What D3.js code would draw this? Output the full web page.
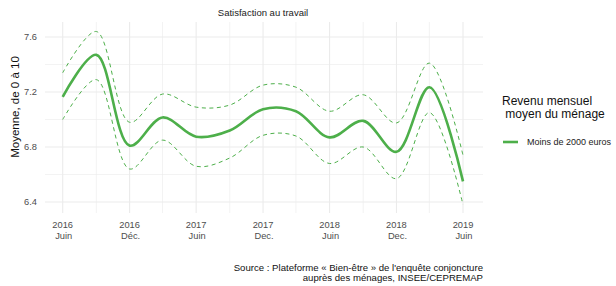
<!DOCTYPE html>
<html>
<head>
<meta charset="utf-8">
<script src="https://cdn.jsdelivr.net/npm/d3@7"></script>
<style>
  body { margin: 0; background: #fff; }
  svg { font-family: "Liberation Sans", Arial, sans-serif; }
</style>
</head>
<body>
<div id="chart"></div>
<script>
// quarterly survey points
const dates = ["2016-06-01", "2016-09-01", "2016-12-01", "2017-03-01", "2017-06-01", "2017-09-01",
               "2017-12-01", "2018-03-01", "2018-06-01", "2018-09-01", "2018-12-01", "2019-03-01", "2019-06-01"];
const meanVals  = [7.165, 7.47, 6.81, 7.015, 6.875, 6.92, 7.075, 7.06, 6.87, 6.99, 6.765, 7.235, 6.55];
const upperVals = [7.34, 7.64, 6.98, 7.185, 7.09, 7.105, 7.25, 7.235, 7.06, 7.18, 6.975, 7.41, 6.74];
const lowerVals = [7.00, 7.29, 6.64, 6.85, 6.66, 6.72, 6.885, 6.88, 6.68, 6.80, 6.57, 7.05, 6.38];

const xTicks = [
  { date: "2016-06-01", year: "2016", month: "Juin" },
  { date: "2016-12-01", year: "2016", month: "Déc." },
  { date: "2017-06-01", year: "2017", month: "Juin" },
  { date: "2017-12-01", year: "2017", month: "Dec." },
  { date: "2018-06-01", year: "2018", month: "Juin" },
  { date: "2018-12-01", year: "2018", month: "Dec." },
  { date: "2019-06-01", year: "2019", month: "Juin" }
];
const xMinor = ["2016-09-01", "2017-03-01", "2017-09-01", "2018-03-01", "2018-09-01", "2019-03-01"];
const yTicks = [6.4, 6.8, 7.2, 7.6];
const yMinor = [6.6, 7.0, 7.4];

const title = "Satisfaction au travail";
const yLabel = "Moyenne, de 0 à 10";
const legendTitle = ["Revenu mensuel", " moyen du ménage"];
const seriesName = "Moins de 2000 euros";
const caption = ["Source : Plateforme « Bien-être » de l'enquête conjoncture", "auprès des ménages, INSEE/CEPREMAP"];

const W = 616, H = 286;
const green = "#4daf4a";
const gridCol = "#ebebeb";
const parse = d3.timeParse("%Y-%m-%d");

const rows = dates.map((d, i) => ({
  date: parse(d), mean: meanVals[i], upper: upperVals[i], lower: lowerVals[i]
}));

const panel = { left: 45, right: 483, top: 22, bottom: 213 };

const x = d3.scaleTime()
  .domain([parse("2016-06-01"), parse("2019-06-01")])
  .range([62.7, 463]);
const y = d3.scaleLinear()
  .domain([6.4, 7.6])
  .range([202, 37]);

const svg = d3.select("#chart").append("svg")
  .attr("width", W).attr("height", H);

// grid
const grid = svg.append("g");
grid.selectAll(".ymin").data(yMinor).enter().append("line")
  .attr("x1", panel.left).attr("x2", panel.right)
  .attr("y1", d => y(d)).attr("y2", d => y(d))
  .attr("stroke", gridCol).attr("stroke-width", 0.6);
grid.selectAll(".xmin").data(xMinor).enter().append("line")
  .attr("x1", d => x(parse(d))).attr("x2", d => x(parse(d)))
  .attr("y1", panel.top).attr("y2", panel.bottom)
  .attr("stroke", gridCol).attr("stroke-width", 0.6);
grid.selectAll(".ymaj").data(yTicks).enter().append("line")
  .attr("x1", panel.left).attr("x2", panel.right)
  .attr("y1", d => y(d)).attr("y2", d => y(d))
  .attr("stroke", gridCol).attr("stroke-width", 1.1);
grid.selectAll(".xmaj").data(xTicks).enter().append("line")
  .attr("x1", d => x(parse(d.date))).attr("x2", d => x(parse(d.date)))
  .attr("y1", panel.top).attr("y2", panel.bottom)
  .attr("stroke", gridCol).attr("stroke-width", 1.1);

// y tick labels
svg.selectAll(".ytl").data(yTicks).enter().append("text")
  .attr("x", 37).attr("y", d => y(d) + 3.3)
  .attr("text-anchor", "end")
  .attr("fill", "#4d4d4d").style("font-size", "9.3px")
  .text(d => d3.format(".1f")(d));

// x tick labels
const xt = svg.selectAll(".xtl").data(xTicks).enter().append("text")
  .attr("text-anchor", "middle")
  .attr("fill", "#4d4d4d").style("font-size", "9.3px");
xt.append("tspan").attr("x", d => x(parse(d.date))).attr("y", 227.5).text(d => d.year);
xt.append("tspan").attr("x", d => x(parse(d.date)) + 1).attr("y", 238.5).text(d => d.month);

// lines
const curve = d3.curveCatmullRom.alpha(0.5);
const lineOf = key => d3.line().curve(curve).x(d => x(d.date)).y(d => y(d[key]));

["upper", "lower"].forEach(k => {
  svg.append("path").datum(rows)
    .attr("fill", "none").attr("stroke", green)
    .attr("stroke-width", 1).attr("stroke-dasharray", "4,3.5")
    .attr("d", lineOf(k));
});
svg.append("path").datum(rows)
  .attr("fill", "none").attr("stroke", green)
  .attr("stroke-width", 2.6).attr("stroke-linejoin", "round")
  .attr("d", lineOf("mean"));

// title
svg.append("text")
  .attr("x", 263).attr("y", 16)
  .attr("text-anchor", "middle")
  .attr("fill", "#222").style("font-size", "9.5px")
  .text(title);

// y axis title
svg.append("text")
  .attr("transform", "translate(19,107) rotate(-90)")
  .attr("text-anchor", "middle")
  .attr("fill", "#111").style("font-size", "11.5px")
  .text(yLabel);

// legend
svg.selectAll(".lt").data(legendTitle).enter().append("text")
  .attr("x", 502).attr("y", (d, i) => 104.5 + i * 13)
  .attr("fill", "#111").style("font-size", "12px")
  .style("white-space", "pre").attr("xml:space", "preserve")
  .text(d => d);
svg.append("line")
  .attr("x1", 503).attr("x2", 518).attr("y1", 142).attr("y2", 142)
  .attr("stroke", green).attr("stroke-width", 2.6);
svg.append("text")
  .attr("x", 527).attr("y", 145.3)
  .attr("fill", "#222").style("font-size", "9px")
  .text(seriesName);

// caption
svg.selectAll(".cap").data(caption).enter().append("text")
  .attr("x", 483).attr("y", (d, i) => 270.5 + i * 10.5)
  .attr("text-anchor", "end")
  .attr("fill", "#111").style("font-size", "9.6px")
  .text(d => d);
</script>
</body>
</html>
